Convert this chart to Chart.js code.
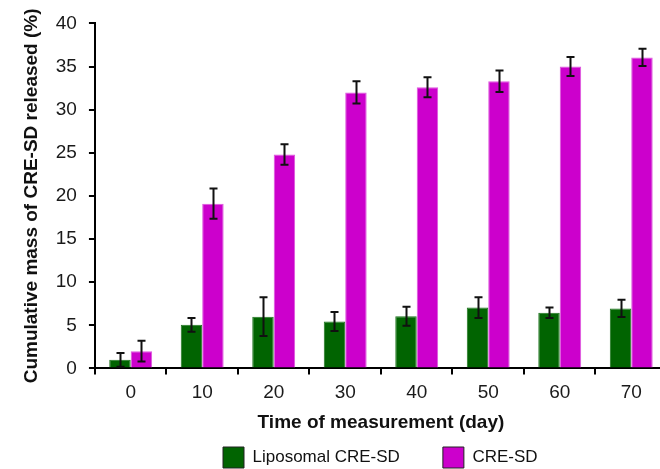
<!DOCTYPE html>
<html>
<head>
<meta charset="utf-8">
<script src="https://cdn.jsdelivr.net/npm/chart.js@4"></script>
<style>
  html, body { margin: 0; padding: 0; background: #fff; overflow: hidden; width: 660px; height: 469px; }
  #wrap { position: absolute; left: 0; top: 0; width: 680px; height: 469px; }
</style>
</head>
<body>
<div id="wrap"><canvas id="c" width="680" height="469"></canvas></div>
<script>
// ---- data ----
const days = ['0', '10', '20', '30', '40', '50', '60', '70'];
const liposomal = [1.0, 5.05, 6.0, 5.45, 6.05, 7.05, 6.45, 6.95];
const liposomalErr = [0.8, 0.8, 2.25, 1.1, 1.1, 1.2, 0.6, 1.0];
const creSD = [2.0, 19.1, 24.8, 32.0, 32.6, 33.3, 35.0, 36.05];
const creSDErr = [1.2, 1.75, 1.2, 1.3, 1.15, 1.25, 1.1, 1.0];
const seriesNames = ['Liposomal CRE-SD', 'CRE-SD'];
const yTicks = [0, 5, 10, 15, 20, 25, 30, 35, 40];
const xTitle = 'Time of measurement (day)';
const yTitle = 'Cumulative mass of CRE-SD released (%)';

const errors = [liposomalErr, creSDErr];

const errorBars = {
  id: 'errorBars',
  afterDatasetsDraw(chart) {
    const ctx = chart.ctx;
    const y = chart.scales.y;
    ctx.save();
    ctx.strokeStyle = '#111';
    ctx.lineWidth = 2;
    chart.data.datasets.forEach((ds, i) => {
      const meta = chart.getDatasetMeta(i);
      meta.data.forEach((bar, j) => {
        const v = ds.data[j], e = errors[i][j];
        const x = Math.round(bar.x) + 0.5;
        const yt = y.getPixelForValue(v + e);
        const yb = y.getPixelForValue(Math.max(0, v - e));
        const cap = 4;
        ctx.beginPath();
        ctx.moveTo(x, yt); ctx.lineTo(x, yb);
        ctx.moveTo(x - cap, yt); ctx.lineTo(x + cap, yt);
        ctx.moveTo(x - cap, yb); ctx.lineTo(x + cap, yb);
        ctx.stroke();
      });
    });
    ctx.restore();
  }
};

const legendPlacer = {
  id: 'legendPlacer',
  afterLayout(chart) {
    const lg = chart.legend;
    const pad = lg.options.labels.padding;
    lg.top = 447 - pad;
    lg.bottom = chart.height;
    lg.height = lg.bottom - lg.top;
    lg.left = 223 - pad;
    lg.right = chart.width;
    lg.width = lg.right - lg.left;
  }
};

new Chart(document.getElementById('c'), {
  type: 'bar',
  data: {
    labels: days,
    datasets: [
      { label: seriesNames[0], data: liposomal, backgroundColor: '#016401', borderColor: '#1f751f', borderWidth: 1 },
      { label: seriesNames[1], data: creSD, backgroundColor: '#cc00cc', borderColor: '#dd55dd', borderWidth: 1 }
    ]
  },
  options: {
    responsive: false,
    animation: false,
    devicePixelRatio: 1,
    layout: { padding: { left: 0, right: 13, top: 20, bottom: 0 } },
    datasets: { bar: { categoryPercentage: 0.6, barPercentage: 1.0 } },
    plugins: {
      tooltip: { enabled: false },
      legend: {
        position: 'bottom',
        align: 'start',
        maxHeight: 27,
        labels: {
          boxWidth: 21,
          boxHeight: 21,
          padding: 43,
          color: '#111',
          font: { family: 'Liberation Sans, Arial, sans-serif', size: 17 },
          generateLabels: (chart) => Chart.defaults.plugins.legend.labels.generateLabels(chart)
            .map(l => Object.assign(l, { strokeStyle: '#222', lineWidth: 1 }))
        }
      }
    },
    scales: {
      x: {
        offset: true,
        grid: { offset: true, drawOnChartArea: false, drawTicks: true, tickLength: 6, color: '#000', lineWidth: 2 },
        border: { display: true, color: '#000', width: 2 },
        ticks: { color: '#1a1a1a', padding: 7, font: { family: 'Liberation Sans, Arial, sans-serif', size: 19 } },
        title: {
          display: true, text: xTitle, color: '#111',
          padding: { top: 0, bottom: 8 },
          font: { family: 'Liberation Sans, Arial, sans-serif', size: 19, weight: 'bold' }
        }
      },
      y: {
        min: 0, max: 40,
        afterBuildTicks: (scale) => { scale.ticks = yTicks.map(v => ({ value: v })); },
        grid: { drawOnChartArea: false, drawTicks: true, tickLength: 6, color: '#000', lineWidth: 2 },
        border: { display: true, color: '#000', width: 2 },
        ticks: { color: '#1a1a1a', padding: 12, font: { family: 'Liberation Sans, Arial, sans-serif', size: 19 } },
        title: {
          display: true, text: yTitle, color: '#111',
          padding: { top: 20, bottom: 1 },
          font: { family: 'Liberation Sans, Arial, sans-serif', size: 19, weight: 'bold' }
        }
      }
    }
  },
  plugins: [errorBars, legendPlacer]
});
</script>
</body>
</html>
